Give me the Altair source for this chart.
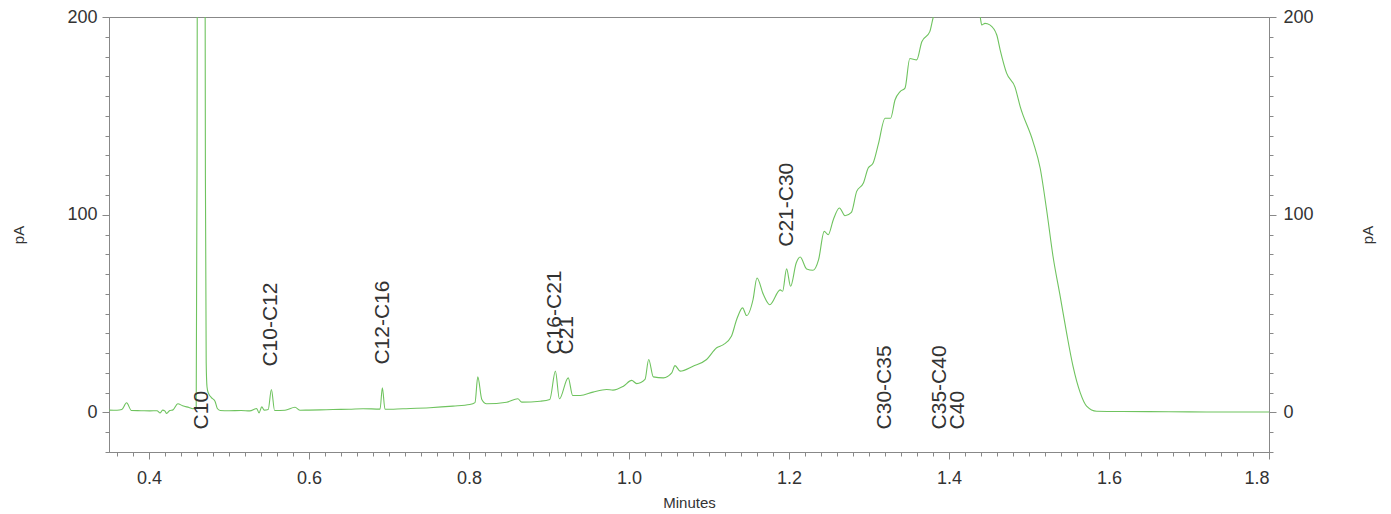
import altair as alt
import pandas as pd

# Chromatogram trace (minutes, pA)
t = [0.350, 0.360, 0.366, 0.372, 0.378, 0.390, 0.401, 0.410, 0.414, 0.417,
     0.420, 0.422, 0.426, 0.430, 0.436, 0.442, 0.450, 0.455, 0.4590, 0.4600,
     0.4610, 0.4650, 0.4695, 0.4705, 0.4715, 0.4725, 0.474, 0.478, 0.4825, 0.4854,
     0.489, 0.500, 0.515, 0.526, 0.5346, 0.5375, 0.541, 0.544, 0.549, 0.553,
     0.557, 0.570, 0.5825, 0.589, 0.600, 0.614, 0.630, 0.650, 0.6675, 0.6888,
     0.6917, 0.695, 0.7175, 0.751, 0.780, 0.801, 0.8075, 0.811, 0.816, 0.822,
     0.847, 0.861, 0.866, 0.889, 0.901, 0.908, 0.913, 0.924, 0.9296, 0.939,
     0.955, 0.972, 0.980, 0.993, 1.0034, 1.0096, 1.020, 1.0246, 1.0304, 1.043,
     1.0534, 1.0575, 1.064, 1.080, 1.097, 1.1096, 1.118, 1.128, 1.1346, 1.142,
     1.147, 1.155, 1.160, 1.168, 1.176, 1.189, 1.192, 1.197, 1.202, 1.209,
     1.214, 1.222, 1.230, 1.237, 1.244, 1.249, 1.2554, 1.263, 1.270, 1.278,
     1.2846, 1.293, 1.299, 1.305, 1.312, 1.320, 1.327, 1.3325, 1.339, 1.345,
     1.351, 1.3596, 1.366, 1.376, 1.3804, 1.390, 1.405, 1.420, 1.432, 1.439,
     1.4409, 1.445, 1.451, 1.4596, 1.464, 1.472, 1.4825, 1.489, 1.505, 1.514,
     1.522, 1.530, 1.539, 1.547, 1.555, 1.564, 1.572, 1.5846, 1.600, 1.650,
     1.700, 1.750, 1.800]
pA = [1.2, 1.1, 1.5, 4.9, 1.0, 0.9, 0.8, 0.9, -0.2, 1.2,
      0.7, -0.5, 1.0, 1.3, 4.4, 3.4, 2.5, 1.9, 2.5, 120,
      400, 900, 400, 120, 25, 13, 10, 7.5, 5.7, 2.0,
      1.0, 0.9, 1.0, 0.8, 2.0, -0.2, 2.8, 1.2, 1.5, 11.6,
      1.0, 1.1, 2.6, 1.1, 1.2, 1.3, 1.5, 1.6, 1.9, 1.7,
      12.5, 1.6, 1.9, 2.4, 3.2, 4.0, 5.0, 18.0, 6.6, 4.4,
      5.2, 6.9, 5.2, 5.7, 6.6, 20.9, 6.9, 17.5, 8.6, 8.6,
      10.3, 11.6, 11.3, 13.3, 16.2, 14.6, 16.7, 26.8, 18.0, 17.5,
      20.0, 23.7, 20.9, 23.4, 26.8, 32.7, 34.3, 38.5, 47.0, 52.9,
      49.0, 57.0, 68.0, 59.6, 54.5, 62.0, 61.3, 72.6, 63.8, 75.6,
      78.6, 72.6, 71.9, 77.3, 91.6, 89.9, 97.5, 103.4, 99.5, 101.2,
      111.8, 116.0, 123.6, 126.0, 136.2, 148.8, 148.8, 158.0, 162.3, 164.0,
      179.0, 178.3, 187.5, 192.6, 200.0, 207.0, 213.0, 212.0, 207.0, 200.0,
      196.0, 196.8, 196.0, 191.0, 183.3, 171.6, 164.5, 154.7, 137.0, 123.5,
      102.5, 79.0, 58.7, 40.2, 23.4, 10.0, 3.2, 0.6, 0.5, 0.4,
      0.3, 0.2, 0.2]

# Peak labels
peak_names = ["C10", "C10-C12", "C12-C16", "C16-C21", "C21", "C21-C30",
              "C30-C35", "C35-C40", "C40"]
peak_t = [0.466, 0.5525, 0.6925, 0.9075, 0.9225, 1.1975, 1.320, 1.3888, 1.4108]
peak_y = [-8.6, 23.2, 24.2, 29.3, 29.3, 83.8, -8.6, -8.6, -8.6]

x_major = [0.4, 0.6, 0.8, 1.0, 1.2, 1.4, 1.6, 1.8]
x_minor = [round(0.36 + 0.02 * i, 2) for i in range(73)]
y_major = [0, 100, 200]
y_minor = [-20 + 10 * i for i in range(23)]

GREEN = "#6fc35f"
FONT = "Liberation Sans"
AX = "#888888"
TXT = "#333333"

df = pd.DataFrame({"t": t, "pA": pA})
lab_df = pd.DataFrame({"name": peak_names, "t": peak_t, "y": peak_y})

xs = alt.Scale(domain=[0.35, 1.8], nice=False, zero=False)
ys = alt.Scale(domain=[-20, 200], nice=False, zero=False)

line = alt.Chart(df).mark_line(color=GREEN, strokeWidth=1.1, clip=True,
                               interpolate="monotone").encode(
    x=alt.X("t:Q", scale=xs, axis=alt.Axis(
        orient="bottom", values=x_major, format=".1f", title="Minutes",
        tickSize=7, labelPadding=10, titleY=50, titleBaseline="middle")),
    y=alt.Y("pA:Q", scale=ys, axis=alt.Axis(
        orient="left", values=y_major, format="d", title="pA",
        tickSize=7, labelPadding=5, titleX=-91, titleAngle=270,
        titleBaseline="middle")),
)

minor_lb = alt.Chart(df).mark_line(opacity=0, clip=True).encode(
    x=alt.X("t:Q", scale=xs, axis=alt.Axis(
        orient="bottom", values=x_minor, labels=False, title=None,
        tickSize=4, domain=False)),
    y=alt.Y("pA:Q", scale=ys, axis=alt.Axis(
        orient="left", values=y_minor, labels=False, title=None,
        tickSize=4, domain=False)),
)

right = alt.Chart(df).mark_line(opacity=0, clip=True).encode(
    x=alt.X("t:Q", scale=xs, axis=None),
    y=alt.Y("pA:Q", scale=ys, axis=alt.Axis(
        orient="right", values=y_major, format="d", title="pA",
        tickSize=7, labelPadding=7, titleX=98, titleAngle=270,
        titleBaseline="middle")),
)

right_minor = alt.Chart(df).mark_line(opacity=0, clip=True).encode(
    x=alt.X("t:Q", scale=xs, axis=None),
    y=alt.Y("pA:Q", scale=ys, axis=alt.Axis(
        orient="right", values=y_minor, labels=False, title=None,
        tickSize=4, domain=False)),
)

labels = alt.Chart(lab_df).mark_text(
    angle=270, align="left", baseline="middle", fontSize=21, font=FONT,
    color=TXT).encode(
    x=alt.X("t:Q", scale=xs, axis=None),
    y=alt.Y("y:Q", scale=ys, axis=None),
    text="name:N",
)

chart = alt.layer(line, minor_lb, right, right_minor, labels).resolve_axis(
    x="independent", y="independent"
).properties(
    width=1160, height=435,
    autosize=alt.AutoSizeParams(type="none"),
    padding={"left": 101, "top": 9, "right": 114, "bottom": 62},
).configure_axis(
    grid=False, domainColor=AX, tickColor=AX, labelFont=FONT, titleFont=FONT,
    labelFontSize=18, titleFontSize=15, labelColor=TXT, titleColor=TXT,
    titleFontWeight="normal",
).configure_view(stroke=AX, strokeWidth=1)

chart.save("out.html", embed_options={"renderer": "svg", "actions": False})
